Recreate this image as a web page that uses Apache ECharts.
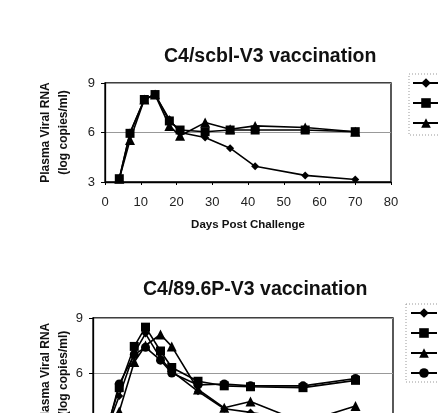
<!DOCTYPE html>
<html>
<head>
<meta charset="utf-8">
<script src="https://cdn.jsdelivr.net/npm/echarts@6/dist/echarts.min.js"></script>
<style>
  html, body { margin: 0; padding: 0; background: #fff; }
  #myEcharts { width: 438px; height: 413px; }
</style>
</head>
<body>
<div id="myEcharts"></div>
<script>
// days post challenge (same sampling in both panels)
var days = [4, 7, 11, 14, 18, 21, 28, 35, 42, 56, 70];
var yTicks = [3, 6, 9];

// C4/scbl-V3 vaccination
var scblNames = ['scbl-1', 'scbl-2', 'scbl-3'];
var scblDiamond  = [3.2, 6.0, 8.0, 8.3, 6.8, 6.0, 5.7, 5.05, 3.95, 3.4, 3.15];
var scblSquare   = [3.2, 5.95, 8.0, 8.3, 6.7, 6.15, 6.05, 6.15, 6.15, 6.15, 6.05];
var scblTriangle = [3.2, 5.55, 8.0, 8.3, 6.4, 5.8, 6.6, 6.2, 6.4, 6.3, 6.05];

// C4/89.6P-V3 vaccination
var p89Names = ['89.6P-1', '89.6P-2', '89.6P-3', '89.6P-4'];
var p89Diamond  = [3.1, 4.75, 7.1, 8.15, 6.8, 6.1, 5.0, 4.05, 3.85, 3.4, 3.3];
var p89Square   = [3.2, 5.2, 7.45, 8.5, 7.2, 6.3, 5.55, 5.3, 5.25, 5.2, 5.6];
var p89Triangle = [3.0, 3.9, 6.6, 7.5, 8.1, 7.45, 5.1, 4.1, 4.45, 3.3, 4.2];
var p89Circle   = [3.1, 5.4, 7.0, 7.4, 6.7, 6.0, 5.35, 5.4, 5.3, 5.3, 5.7];

function pairs(vals) {
    return days.map(function (d, i) { return [d, vals[i]]; });
}

function lineSeries(name, vals, symbol, size, idx) {
    return {
        name: name,
        type: 'line',
        xAxisIndex: idx,
        yAxisIndex: idx,
        symbol: symbol,
        symbolSize: size,
        showSymbol: true,
        itemStyle: { color: '#000' },
        lineStyle: { color: '#000', width: 1.6 },
        data: pairs(vals),
        animation: false
    };
}

function xAxis(idx, showLabels) {
    return {
        gridIndex: idx,
        type: 'value',
        min: 0, max: 80, interval: 10,
        axisLine: { lineStyle: { color: '#000', width: 1.3 } },
        axisTick: { show: true, length: 3, lineStyle: { color: '#000' } },
        axisLabel: { show: showLabels, color: '#222', fontSize: 13, margin: 14, fontFamily: 'Liberation Sans' },
        splitLine: { show: false },
        name: showLabels ? 'Days Post Challenge' : '',
        nameLocation: 'middle',
        nameGap: 37,
        nameTextStyle: { fontWeight: 'bold', fontSize: 11.5, color: '#111', fontFamily: 'Liberation Sans' }
    };
}

function yAxis(idx, gap) {
    return {
        gridIndex: idx,
        type: 'value',
        min: yTicks[0], max: yTicks[yTicks.length - 1], interval: 3,
        axisLine: { show: true, lineStyle: { color: '#000', width: 1.3 } },
        axisTick: { show: true, length: 4, lineStyle: { color: '#000' } },
        axisLabel: { color: '#222', fontSize: 13, margin: 10, fontFamily: 'Liberation Sans' },
        splitLine: { show: true, lineStyle: { color: '#999', width: 1 } },
        name: 'Plasma Viral RNA\n(log copies/ml)',
        nameLocation: 'middle',
        nameRotate: 90,
        nameGap: gap,
        nameMoveOverlap: false,
        nameTextStyle: { fontWeight: 'bold', fontSize: 12, lineHeight: 18, color: '#111', fontFamily: 'Liberation Sans' }
    };
}

function legendBox(names, left, top) {
    return {
        data: names,
        orient: 'vertical',
        left: left, top: top,
        itemWidth: 26, itemHeight: 12, itemGap: 10,
        padding: 0,
        textStyle: { fontSize: 10, color: '#000' },
        selectedMode: false
    };
}

// dotted frame round each legend, running off the right edge like the scan
function frame(x, y, h) {
    return {
        type: 'rect',
        shape: { x: x, y: y, width: 80, height: h },
        style: { fill: 'none', stroke: '#999', lineWidth: 1, lineDash: [1, 2] },
        silent: true
    };
}

var myChart = echarts.init(document.getElementById('myEcharts'));

myChart.setOption({
    backgroundColor: '#fff',
    title: [
        { text: 'C4/scbl-V3 vaccination', left: 159, top: 42,
          textStyle: { fontSize: 19.5, fontWeight: 'bold', color: '#111', fontFamily: 'Liberation Sans' } },
        { text: 'C4/89.6P-V3 vaccination', left: 138, top: 275,
          textStyle: { fontSize: 19.5, fontWeight: 'bold', color: '#111', fontFamily: 'Liberation Sans' } }
    ],
    legend: [
        legendBox(scblNames, 412, 78),
        legendBox(p89Names, 410, 308)
    ],
    graphic: [frame(409, 74, 61), frame(406, 304, 78)],
    grid: [
        { left: 105, top: 83, width: 286, height: 99, show: true, borderColor: '#000', borderWidth: 1.3,
          containLabel: false, outerBoundsMode: 'none' },
        { left: 93, top: 318, width: 300, height: 110, show: true, borderColor: '#000', borderWidth: 1.3,
          containLabel: false, outerBoundsMode: 'none' }
    ],
    xAxis: [xAxis(0, true), xAxis(1, false)],
    yAxis: [yAxis(0, 32), yAxis(1, 20)],
    series: [
        lineSeries(scblNames[0], scblDiamond, 'diamond', 8, 0),
        lineSeries(scblNames[1], scblSquare, 'rect', 9, 0),
        lineSeries(scblNames[2], scblTriangle, 'triangle', 10, 0),
        lineSeries(p89Names[0], p89Diamond, 'diamond', 8, 1),
        lineSeries(p89Names[1], p89Square, 'rect', 9, 1),
        lineSeries(p89Names[2], p89Triangle, 'triangle', 10, 1),
        lineSeries(p89Names[3], p89Circle, 'circle', 9, 1)
    ]
});
</script>
</body>
</html>
